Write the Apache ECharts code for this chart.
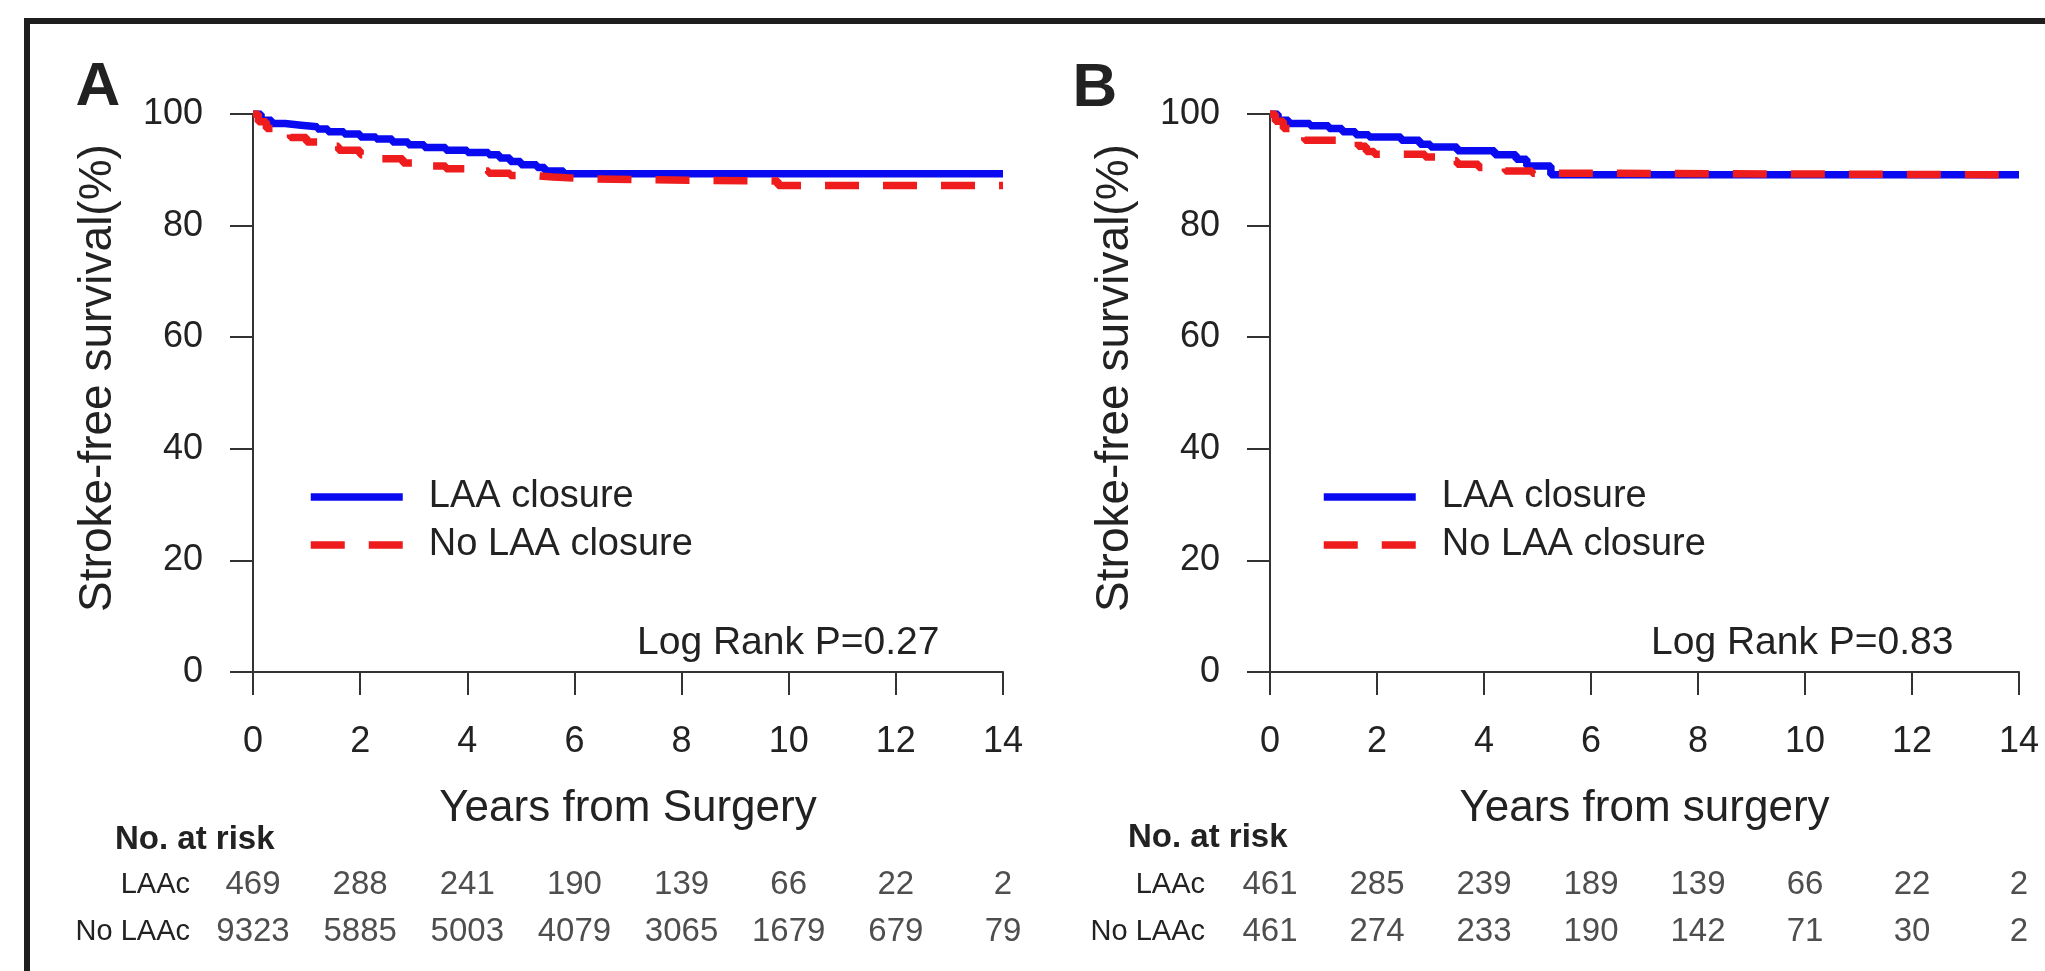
<!DOCTYPE html>
<html><head><meta charset="utf-8">
<script src="https://cdn.jsdelivr.net/npm/echarts@6/dist/echarts.min.js"></script>
<style>html,body{margin:0;padding:0;background:#fff}#c{width:2045px;height:971px}</style>
</head><body><div id="c"></div>
<script>
// ---------- data ----------
const riskYears = [0, 2, 4, 6, 8, 10, 12, 14];
const rowNames = ['No LAAc', 'LAAc'];
const seriesNames = ['LAA closure', 'No LAA closure'];

// Panel A: Kaplan-Meier steps (years, survival %)
const blueA_t = [0, 0.15, 0.35, 0.6, 0.9, 1.2, 1.4, 1.7, 2.0, 2.3, 2.6, 2.9, 3.2, 3.6, 4.0, 4.4, 4.6, 4.8, 5.0, 5.3, 5.45, 5.8, 14];
const blueA_s = [100, 98.9, 98.3, 98.0, 97.7, 97.3, 96.8, 96.4, 95.9, 95.5, 95.0, 94.5, 94.0, 93.5, 93.1, 92.7, 92.1, 91.5, 90.9, 90.4, 89.8, 89.3, 89.3];
const redA_t = [0, 0.1, 0.25, 0.45, 0.7, 1.0, 1.3, 1.6, 2.0, 2.4, 2.8, 3.2, 3.6, 4.0, 4.4, 4.8, 5.2, 5.6, 6.2, 7.5, 9.8, 14];
const redA_s = [100, 98.6, 97.4, 96.6, 95.8, 95.0, 94.2, 93.5, 92.7, 92.0, 91.2, 90.7, 90.2, 89.8, 89.4, 89.0, 88.7, 88.4, 88.2, 88.0, 87.2, 87.2];

// Panel B
const blueB_t = [0, 0.15, 0.35, 0.75, 1.1, 1.35, 1.6, 1.85, 2.45, 2.8, 3.0, 3.5, 4.2, 4.6, 4.8, 5.25, 14];
const blueB_s = [100, 98.9, 98.3, 97.9, 97.4, 96.8, 96.3, 95.9, 95.3, 94.6, 94.1, 93.4, 92.7, 91.9, 90.7, 89.1, 89.1];
const redB_t = [0, 0.1, 0.25, 0.5, 0.65, 1.65, 1.8, 1.95, 2.9, 3.2, 3.5, 3.9, 4.4, 4.9, 5.4, 14];
const redB_s = [100, 98.7, 97.4, 96.3, 95.3, 94.2, 93.3, 92.8, 92.3, 91.6, 91.0, 90.4, 89.8, 89.4, 89.1, 89.1];

// Number at risk
const riskA_LAAc = [469, 288, 241, 190, 139, 66, 22, 2];
const riskA_No = [9323, 5885, 5003, 4079, 3065, 1679, 679, 79];
const riskB_LAAc = [461, 285, 239, 189, 139, 66, 22, 2];
const riskB_No = [461, 274, 233, 190, 142, 71, 30, 2];

const xTitleA = 'Years from Surgery';
const xTitleB = 'Years from surgery';
const yTitle = 'Stroke-free survival(%)';
const pA = 'Log Rank P=0.27';
const pB = 'Log Rank P=0.83';

// ---------- chart ----------
const FF = '"Liberation Sans", Arial, Helvetica, sans-serif';
const INK = '#222';
const AX = '#333';
const BLUE = '#0a0af0';
const RED = '#ee1c1c';

const zip = (t, s) => t.map((v, i) => [v, s[i]]);
const riskData = (laac, no) => riskYears.map((y, i) => [y, 'LAAc', laac[i]])
  .concat(riskYears.map((y, i) => [y, 'No LAAc', no[i]]));

function mainX(gi, name) {
  return {
    gridIndex: gi, type: 'value', min: 0, max: 14, interval: 2,
    axisLine: { lineStyle: { color: AX, width: 2 } },
    axisTick: { length: 23, lineStyle: { color: AX, width: 2 } },
    axisLabel: { fontSize: 36, fontFamily: FF, color: INK, margin: 52 },
    splitLine: { show: false },
    name: name, nameLocation: 'middle', nameGap: 115,
    nameTextStyle: { fontSize: 44, fontFamily: FF, color: INK }
  };
}
function mainY(gi) {
  return {
    gridIndex: gi, type: 'value', min: 0, max: 100, interval: 20,
    axisLine: { show: true, lineStyle: { color: AX, width: 2 } },
    axisTick: { show: true, length: 23, lineStyle: { color: AX, width: 2 } },
    axisLabel: { fontSize: 36, fontFamily: FF, color: INK, margin: 50 },
    splitLine: { show: false },
    name: yTitle, nameLocation: 'middle', nameGap: 132, nameRotate: 90,
    nameTextStyle: { fontSize: 46, fontFamily: FF, color: INK, padding: [0, 0, 0, 30] }
  };
}
function tableX(gi) {
  return { gridIndex: gi, type: 'value', min: 0, max: 14, show: false };
}
function tableY(gi, margin) {
  return {
    gridIndex: gi, type: 'category', data: rowNames,
    axisLine: { show: false }, axisTick: { show: false }, splitLine: { show: false },
    axisLabel: { fontSize: 29, fontFamily: FF, color: INK, margin: margin }
  };
}
function kmLine(name, gi, data, color, dashed) {
  return {
    type: 'line', name: name, xAxisIndex: gi, yAxisIndex: gi, step: 'end',
    symbol: 'none', data: data, z: dashed ? 4 : 3,
    lineStyle: { color: color, width: 7.5, type: dashed ? [34, 24] : 'solid', cap: 'butt' },
    itemStyle: { color: color }
  };
}
function riskSeries(gi, data) {
  return {
    type: 'scatter', xAxisIndex: gi, yAxisIndex: gi, data: data,
    symbolSize: 1, itemStyle: { color: 'rgba(0,0,0,0)' }, silent: true,
    label: { show: true, position: 'inside', formatter: p => String(p.value[2]),
      fontSize: 33, fontFamily: FF, color: INK }
  };
}
function legend(left) {
  return {
    left: left, top: 468, orient: 'vertical', itemWidth: 92, itemHeight: 14, itemGap: 0,
    data: seriesNames, selectedMode: false,
    formatter: n => '  ' + n,
    itemStyle: { color: 'rgba(0,0,0,0)', borderWidth: 0, opacity: 0 },
    lineStyle: { width: 7.5 },
    textStyle: { fontSize: 38, fontFamily: FF, color: INK, lineHeight: 48 }
  };
}
function txt(x, y, text, size, weight, align) {
  return { type: 'text', x: x, y: y, silent: true,
    style: { text: text, fontSize: size, fontFamily: FF, fontWeight: weight || 'normal',
      fill: INK, align: align || 'left', verticalAlign: 'middle' } };
}

const chart = echarts.init(document.getElementById('c'), null, { renderer: 'canvas' });
chart.setOption({
  animation: false,
  backgroundColor: '#fff',
  grid: [
    { left: 253, top: 114, width: 750, height: 558 },
    { left: 1270, top: 114, width: 749, height: 558 },
    { left: 253, top: 861, width: 750, height: 94 },
    { left: 1270, top: 861, width: 749, height: 94 }
  ],
  xAxis: [mainX(0, xTitleA), mainX(1, xTitleB), tableX(2), tableX(3)],
  yAxis: [mainY(0), mainY(1), tableY(2, 63), tableY(3, 65)],
  legend: [legend(302), legend(1315)],
  series: [
    kmLine(seriesNames[0], 0, zip(blueA_t, blueA_s), BLUE, false),
    kmLine(seriesNames[1], 0, zip(redA_t, redA_s), RED, true),
    kmLine(seriesNames[0], 1, zip(blueB_t, blueB_s), BLUE, false),
    kmLine(seriesNames[1], 1, zip(redB_t, redB_s), RED, true),
    riskSeries(2, riskData(riskA_LAAc, riskA_No)),
    riskSeries(3, riskData(riskB_LAAc, riskB_No))
  ],
  graphic: [
    { type: 'rect', silent: true, shape: { x: 27, y: 21, width: 2100, height: 1100 },
      style: { fill: 'none', stroke: '#1e1e1e', lineWidth: 6 } },
    txt(98, 88, 'A', 62, 'bold', 'center'),
    txt(1095, 89, 'B', 62, 'bold', 'center'),
    txt(115, 840, 'No. at risk', 33, 'bold'),
    txt(1128, 838, 'No. at risk', 33, 'bold'),
    txt(637, 643, pA, 39),
    txt(1651, 643, pB, 39)
  ]
});
</script></body></html>
